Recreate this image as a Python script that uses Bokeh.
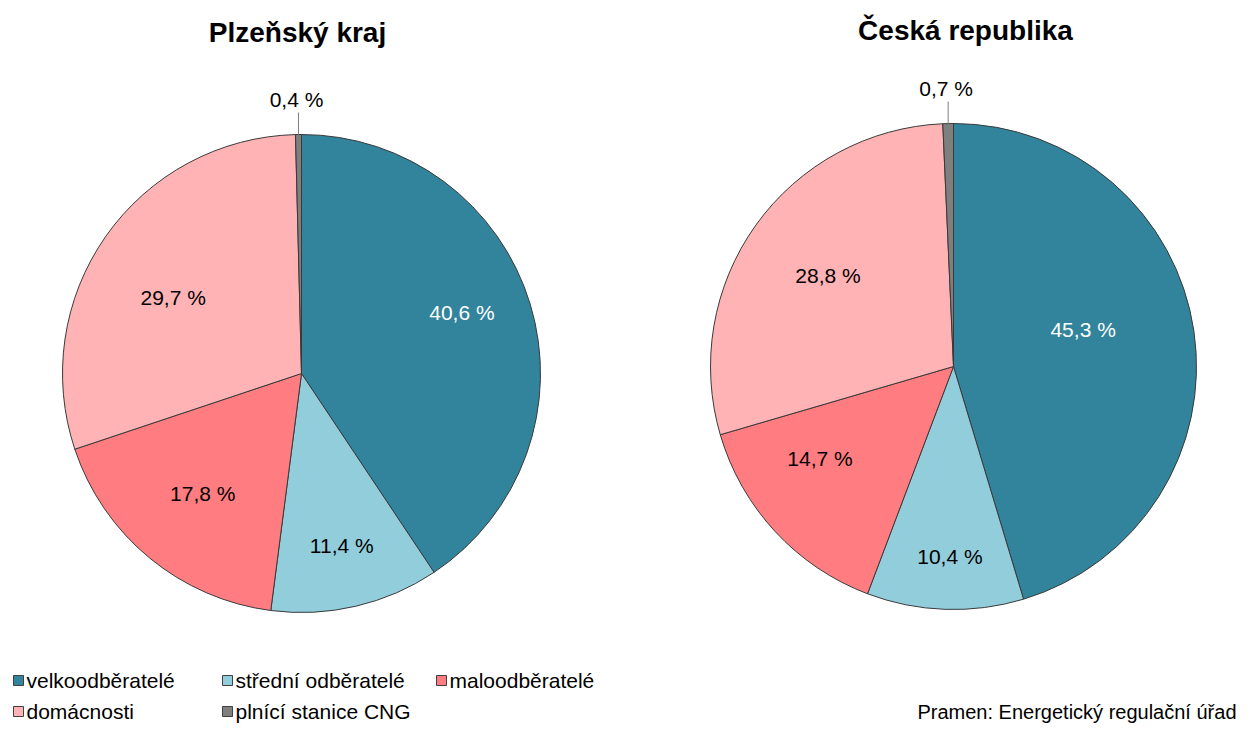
import math
from bokeh.plotting import figure
from bokeh.models import Range1d, ColumnDataSource
from bokeh.core.properties import value
from bokeh.embed import file_html
from bokeh.resources import INLINE

# ---- data ----
categories = ["velkoodběratelé", "střední odběratelé", "maloodběratelé", "domácnosti", "plnící stanice CNG"]
colors = ["#31849B", "#92CDDC", "#FF7C80", "#FFB3B5", "#7F7F7F"]
plzen_values = [40.6, 11.4, 17.8, 29.7, 0.4]
cr_values = [45.3, 10.4, 14.7, 28.8, 0.7]
titles = ["Plzeňský kraj", "Česká republika"]
source_text = "Pramen: Energetický regulační úřad"

W, H = 1239, 724
FONT = "Liberation Sans"

def Y(page_y):
    return H - page_y

def X(page_x):
    return page_x

p = figure(width=W, height=H, output_backend="svg", toolbar_location=None,
           x_range=Range1d(0, W), y_range=Range1d(0, H), min_border=0)
p.axis.visible = False
p.grid.visible = False
p.outline_line_color = None
p.background_fill_color = "white"
p.border_fill_color = "white"

pies = [
    dict(vals=plzen_values, cx=X(301), cy=Y(373), r=239, title=titles[0], tx=X(297), ty=Y(32),
         lab_f=[0.71, 0.74, 0.65, 0.62], lab_off=[(-2, -12), (0, 0), (0, 0), (-7, 9)],
         lab_col=["white", "black", "black", "black"]),
    dict(vals=cr_values, cx=X(953), cy=Y(366), r=243, title=titles[1], tx=X(965), ty=Y(30),
         lab_f=[0.56, 0.78, 0.67, 0.63], lab_off=[(-5, -17), (3, 1), (-14, -19), (-1, -2)],
         lab_col=["white", "black", "black", "black"]),
]

for pie in pies:
    vals = pie["vals"]
    total = sum(vals)
    starts, ends, mids = [], [], []
    cum = 0.0
    for v in vals:
        a0 = math.pi / 2 - 2 * math.pi * cum / total
        cum += v
        a1 = math.pi / 2 - 2 * math.pi * cum / total
        starts.append(a0)
        ends.append(a1)
        mids.append((a0 + a1) / 2)
    src = ColumnDataSource(dict(x=[pie["cx"]] * len(vals), y=[pie["cy"]] * len(vals),
                                start=starts, end=ends, color=colors))
    p.wedge(x="x", y="y", radius=pie["r"], start_angle="start", end_angle="end",
            direction="clock", fill_color="color", line_color="#3a3a3a", line_width=1,
            source=src)
    # labels of main slices
    for i in range(4):
        f = pie["lab_f"][i]
        ox, oy = pie["lab_off"][i]
        lx = pie["cx"] + f * pie["r"] * math.cos(mids[i]) + ox
        ly = pie["cy"] + f * pie["r"] * math.sin(mids[i]) - oy
        txt = ("%.1f" % vals[i]).replace(".", ",") + " %"
        p.text(x=[lx], y=[ly], text=[txt], text_font=value(FONT), text_font_size="21px",
               text_color=pie["lab_col"][i], text_align="center", text_baseline="middle")
    # small slice label with leader line
    i = 4
    ex = pie["cx"] + pie["r"] * math.cos(mids[i])
    ey = pie["cy"] + pie["r"] * math.sin(mids[i])
    p.line(x=[ex, ex], y=[ey, ey + 22], line_color="#7f7f7f", line_width=1)
    txt = ("%.1f" % vals[i]).replace(".", ",") + " %"
    p.text(x=[ex - 2], y=[ey + 24], text=[txt], text_font=value(FONT), text_font_size="21px",
           text_color="black", text_align="center", text_baseline="bottom")
    # title
    p.text(x=[pie["tx"]], y=[pie["ty"]], text=[pie["title"]], text_font=value(FONT),
           text_font_size="28px", text_font_style="bold", text_color="black",
           text_align="center", text_baseline="middle")

# legend
leg_sq_x = [X(18), X(227), X(441), X(18), X(227)]
leg_y = [Y(680), Y(680), Y(680), Y(711), Y(711)]
p.rect(x=leg_sq_x, y=leg_y, width=10, height=10, fill_color=colors, line_color="#404040", line_width=1)
p.text(x=[x + 8 for x in leg_sq_x], y=leg_y, text=categories, text_font=value(FONT),
       text_font_size="21px", text_color="black", text_align="left", text_baseline="middle")

# source
p.text(x=[X(1236)], y=[Y(722)], text=[source_text], text_font=value(FONT), text_font_size="20px",
       text_color="black", text_align="right", text_baseline="bottom")

open("out.html", "w").write(file_html(p, INLINE))
